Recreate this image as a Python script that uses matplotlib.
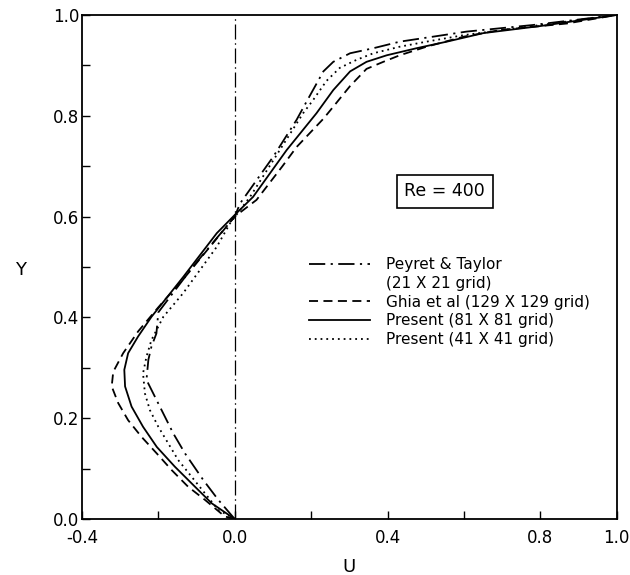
#!/usr/bin/env python3
import numpy as np
import matplotlib
matplotlib.use("Agg")
import matplotlib.pyplot as plt

# u-velocity along vertical centreline, Re = 400
y_peyret = [0, 0.038, 0.077, 0.130, 0.170, 0.223, 0.276, 0.316, 0.342, 0.368, 0.41, 0.50, 0.60,
            0.626, 0.719, 0.792, 0.828, 0.888, 0.907, 0.924, 0.934, 0.947, 0.957, 0.967, 0.98, 1.0]
u_peyret = [0, -0.043, -0.082, -0.130, -0.161, -0.196, -0.231, -0.226, -0.218, -0.205, -0.20, -0.11, 0.0,
            0.014, 0.101, 0.162, 0.188, 0.232, 0.258, 0.302, 0.363, 0.432, 0.520, 0.607, 0.78, 1.0]

y_ghia = [0, 0.005, 0.038, 0.064, 0.097, 0.130, 0.163, 0.196, 0.230, 0.263, 0.292, 0.329, 0.372,
          0.42, 0.48, 0.54, 0.60, 0.633, 0.70, 0.738, 0.794, 0.818, 0.859, 0.893, 0.907, 0.920,
          0.937, 0.957, 0.970, 0.983, 1.0]
u_ghia = [0, -0.026, -0.078, -0.122, -0.165, -0.204, -0.244, -0.279, -0.305, -0.322, -0.318, -0.292, -0.253,
          -0.20, -0.13, -0.065, 0.0, 0.057, 0.125, 0.162, 0.232, 0.258, 0.302, 0.345, 0.389, 0.432,
          0.502, 0.60, 0.694, 0.869, 1.0]

y_p81 = [0, 0.031, 0.064, 0.104, 0.143, 0.183, 0.223, 0.263, 0.296, 0.329, 0.362, 0.401, 0.48,
         0.567, 0.607, 0.639, 0.732, 0.805, 0.851, 0.888, 0.907, 0.920, 0.934, 0.947, 0.964, 0.978, 1.0]
u_p81 = [0, -0.060, -0.104, -0.157, -0.204, -0.240, -0.270, -0.287, -0.289, -0.279, -0.253, -0.218, -0.135,
         -0.047, 0.005, 0.048, 0.136, 0.214, 0.258, 0.302, 0.345, 0.398, 0.476, 0.555, 0.651, 0.80, 1.0]

y_p41 = [0, 0.018, 0.051, 0.084, 0.117, 0.150, 0.183, 0.216, 0.249, 0.289, 0.322, 0.355, 0.401,
         0.448, 0.494, 0.540, 0.587, 0.639, 0.732, 0.805, 0.831, 0.869, 0.895, 0.911, 0.924,
         0.937, 0.947, 0.960, 0.978, 1.0]
u_p41 = [0, -0.043, -0.078, -0.113, -0.148, -0.174, -0.200, -0.222, -0.235, -0.240, -0.231, -0.218, -0.187,
         -0.135, -0.091, -0.047, -0.012, 0.040, 0.118, 0.179, 0.205, 0.240, 0.275, 0.319, 0.363,
         0.432, 0.502, 0.60, 0.78, 1.0]

labels = ["Peyret & Taylor", "(21 X 21 grid)", "Ghia et al (129 X 129 grid)",
          "Present (81 X 81 grid)", "Present (41 X 41 grid)"]

xticks = [-0.4, 0.0, 0.4, 0.8, 1.0]
xminor = [-0.2, 0.2, 0.6]
yticks = [0.0, 0.2, 0.4, 0.6, 0.8, 1.0]
yminor = [0.1, 0.3, 0.5, 0.7, 0.9]

plt.rcParams['font.family'] = 'DejaVu Sans'

fig = plt.figure(figsize=(6.3, 5.75), dpi=100)
ax = fig.add_axes([0.130, 0.0974, 0.849, 0.8766])

lw = 1.3
l1, = ax.plot(u_peyret, y_peyret, color='black', lw=lw, linestyle=(0, (9, 3, 1.2, 3)))
l2, = ax.plot(u_ghia, y_ghia, color='black', lw=lw, linestyle=(0, (5, 3)))
l3, = ax.plot(u_p81, y_p81, color='black', lw=lw, linestyle='-')
l4, = ax.plot(u_p41, y_p41, color='black', lw=lw, linestyle=(0, (1, 2.2)))
blank, = ax.plot([], [], color='none')

# centreline U = 0
ax.axvline(0.0, color='black', lw=0.9, linestyle=(0, (12, 3, 1.2, 3)))

ax.set_xlim(-0.4, 1.0)
ax.set_ylim(0.0, 1.0)
ax.set_xticks(xticks)
ax.set_xticklabels(["-0.4", "0.0", "0.4", "0.8", "1.0"])
ax.set_xticks(xminor, minor=True)
ax.set_yticks(yticks)
ax.set_yticklabels(["0.0", "0.2", "0.4", "0.6", "0.8", "1.0"])
ax.set_yticks(yminor, minor=True)
ax.tick_params(which='both', direction='in', length=6, width=1.0, labelsize=12)
ax.tick_params(axis='y', pad=2)
ax.tick_params(axis='x', pad=7)
for s in ax.spines.values():
    s.set_linewidth(1.3)

ax.set_xlabel("U", fontsize=13, labelpad=8)
ax.set_ylabel("Y", fontsize=13, rotation=0, va='center')
ax.yaxis.set_label_coords(-0.115, 0.494)

ax.text(0.55, 0.65, "Re = 400", fontsize=12.5, ha='center', va='center',
        bbox=dict(boxstyle='square,pad=0.45', fc='white', ec='black', lw=1.2))

ax.legend([l1, blank, l2, l3, l4], labels, loc='upper left',
          bbox_to_anchor=(0.425, 0.52), frameon=False, fontsize=11,
          handlelength=4.0, handletextpad=1.0, labelspacing=0.25, borderpad=0,
          borderaxespad=0)

fig.savefig("out.png", dpi=100)
